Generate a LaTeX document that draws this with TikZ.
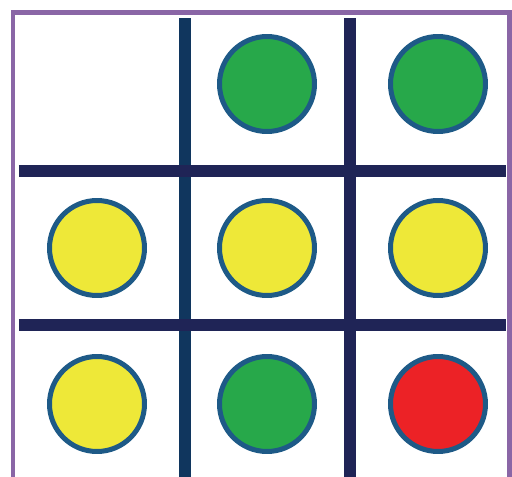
\documentclass[tikz,border=0pt]{standalone}
\usepackage{tikz}

\definecolor{framepurple}{HTML}{8A66A6}
\definecolor{gridnavy}{HTML}{1F2456}
\definecolor{gridblue}{HTML}{10365E}
\definecolor{rimblue}{HTML}{1E5A87}
\definecolor{dotgreen}{HTML}{27A84A}
\definecolor{dotyellow}{HTML}{EEE838}
\definecolor{dotred}{HTML}{EC2226}

\tikzset{
  dot/.style={circle,draw=rimblue,line width=0.1cm,minimum size=1.9cm,inner sep=0pt},
  gridline/.style={line width=0.24cm}
}

\begin{document}
\begin{tikzpicture}[x=0.02cm,y=-0.02cm]
  \useasboundingbox (0,0) rectangle (512,477);
  \clip (0,0) rectangle (512,477);
  \fill[white] (0,0) rectangle (512,477);
  % Frame
  \draw[framepurple,line width=0.1cm] (13,12) rectangle (509.5,500);
  % Grid lines
  \draw[gridline,gridblue] (185,18)--(185,480);
  \draw[gridline,gridnavy] (350,18)--(350,480);
  \draw[gridline,gridnavy] (19,171)--(506,171);
  \draw[gridline,gridnavy] (19,325)--(506,325);
  % Dots, row by row
  \node[dot,fill=dotgreen]  (d12) at (267,84) {};
  \node[dot,fill=dotgreen]  (d13) at (438,84) {};
  \node[dot,fill=dotyellow] (d21) at (97,248) {};
  \node[dot,fill=dotyellow] (d22) at (267,248) {};
  \node[dot,fill=dotyellow] (d23) at (438,248) {};
  \node[dot,fill=dotyellow] (d31) at (97,404) {};
  \node[dot,fill=dotgreen]  (d32) at (267,404) {};
  \node[dot,fill=dotred]    (d33) at (438,404) {};
\end{tikzpicture}
\end{document}
